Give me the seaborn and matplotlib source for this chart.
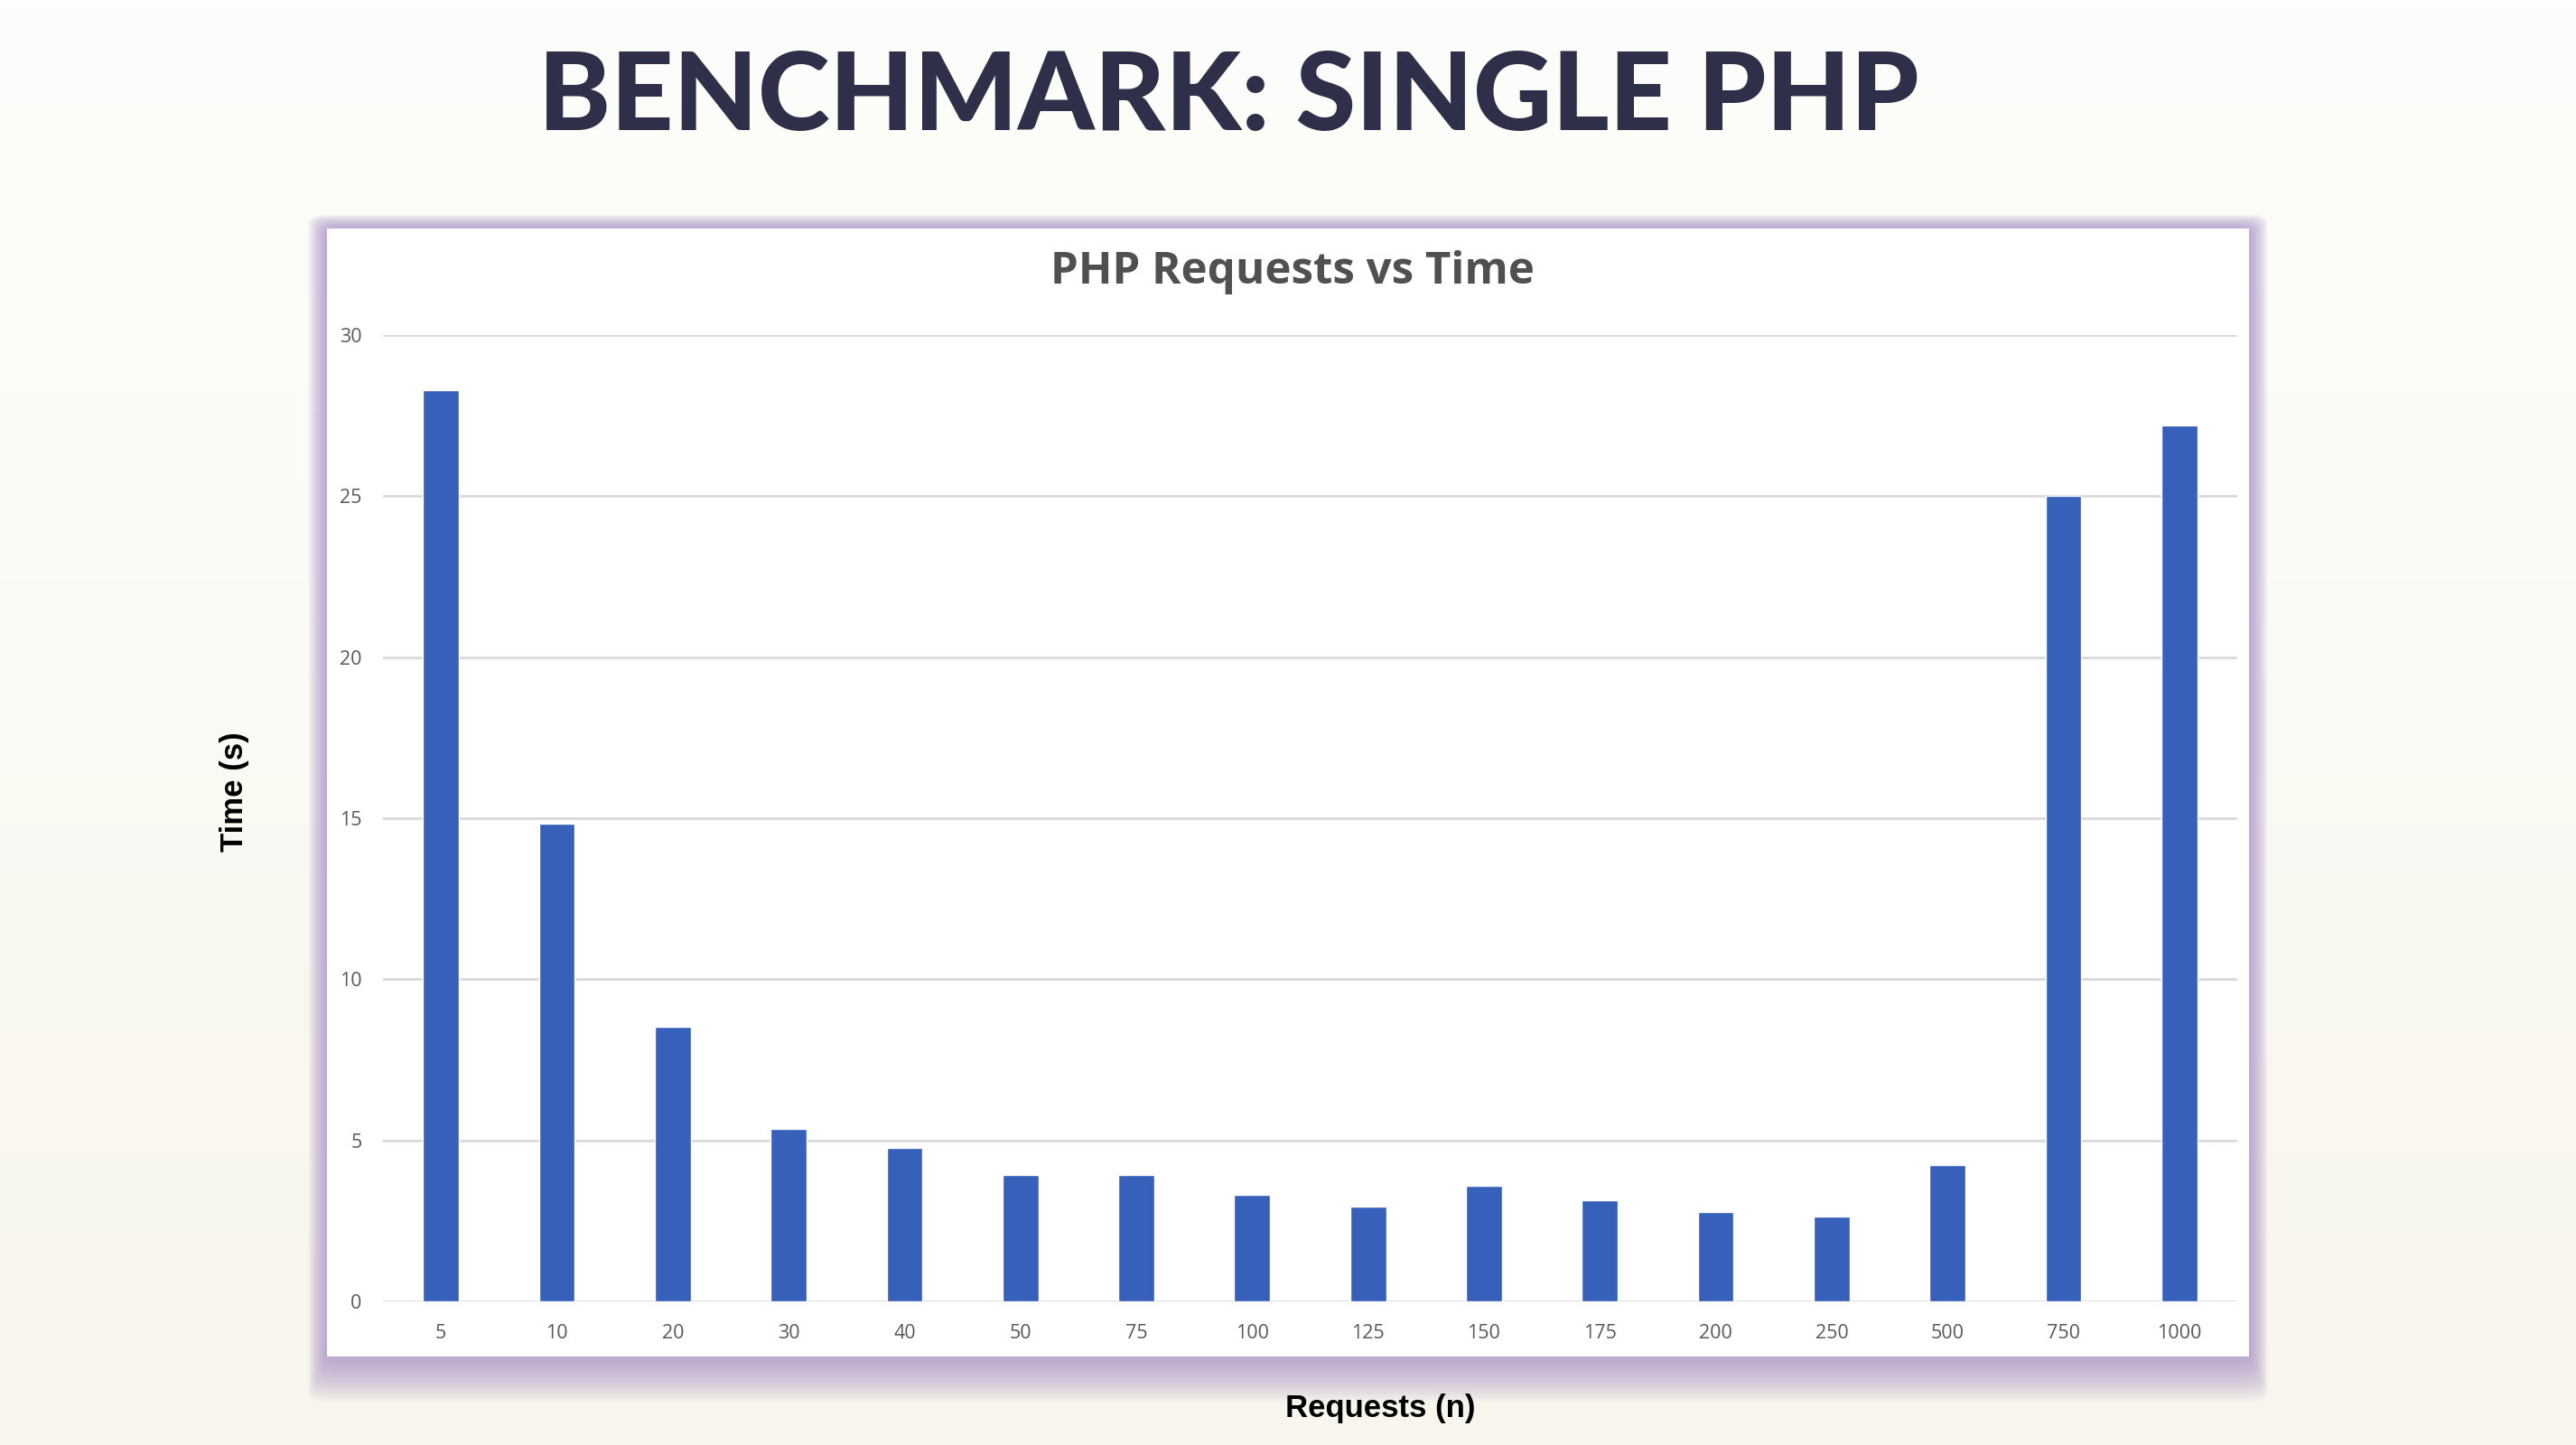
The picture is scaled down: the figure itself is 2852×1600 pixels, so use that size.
import matplotlib
matplotlib.use('Agg')
import matplotlib.pyplot as plt
from matplotlib.patches import FancyBboxPatch, Rectangle
import seaborn as sns
import pandas as pd
import numpy as np

# data
requests = ['5', '10', '20', '30', '40', '50', '75', '100', '125',
            '150', '175', '200', '250', '500', '750', '1000']
times = [28.3, 14.83, 8.52, 5.36, 4.78, 3.92, 3.92, 3.32, 2.95,
         3.6, 3.15, 2.78, 2.63, 4.22, 25.0, 27.2]
y_ticks = [0, 5, 10, 15, 20, 25, 30]

BAR_COLOR = '#3660b9'
GRID_COLOR = '#d9d9d9'

sns.set_theme(style='white')

df = pd.DataFrame({'requests': requests, 'time': times})

fig = plt.figure(figsize=(28.52, 16), dpi=100)

# slide background with a soft cream gradient
bg = fig.add_axes([0, 0, 1, 1])
bg.set_xlim(0, 1)
bg.set_ylim(0, 1)
grad = np.linspace(0, 1, 256).reshape(-1, 1)
cmap = matplotlib.colors.LinearSegmentedColormap.from_list('bg', ['#fdfdfb', '#f8f6ec'])
bg.imshow(grad, extent=[0, 1, 0, 1], aspect='auto', cmap=cmap, origin='upper', zorder=0)
bg.axis('off')

# white chart card with a tight purple glow
cx0, cx1 = 362 / 2852, 2490 / 2852
cy0, cy1 = 1 - 1502 / 1600, 1 - 253 / 1600
for i in range(24, 0, -1):
    dx = i * 0.0003
    dy_top = i * 0.0004
    dy_bot = i * 0.0013
    bg.add_patch(FancyBboxPatch((cx0 - dx, cy0 - dy_bot), (cx1 - cx0) + 2 * dx,
                                (cy1 - cy0) + dy_top + dy_bot,
                                boxstyle='round,pad=0,rounding_size=0.006',
                                facecolor='#a98bc8', edgecolor='none',
                                alpha=0.045, zorder=1))
bg.add_patch(Rectangle((cx0, cy0), cx1 - cx0, cy1 - cy0, facecolor='white',
                       edgecolor='none', zorder=2))

# plot area
ax = fig.add_axes([424 / 2852, 1 - 1441 / 1600, 2053 / 2852, 1070 / 1600])
ax.patch.set_alpha(0)
sns.barplot(data=df, x='requests', y='time', order=requests, color=BAR_COLOR,
            width=0.31, saturation=1, ax=ax, zorder=3)
ax.set_xlim(-0.5, len(requests) - 0.5)
ax.set_ylim(0, 30)
ax.set_yticks(y_ticks)
ax.yaxis.grid(True, color=GRID_COLOR, linewidth=2, zorder=0)
ax.set_axisbelow(True)
for s in ax.spines.values():
    s.set_visible(False)
ax.tick_params(axis='both', length=0, labelsize=15.5, labelcolor='#595959')
ax.tick_params(axis='y', pad=17)
ax.tick_params(axis='x', pad=18)
for lbl in ax.get_xticklabels() + ax.get_yticklabels():
    lbl.set_family('Open Sans')
ax.set_xlabel('')
ax.set_ylabel('')

# texts
fig.text(0.477, 0.932, 'BENCHMARK: SINGLE PHP', ha='center', va='center',
         fontsize=87, fontweight='black', family=['Lato', 'DejaVu Sans'],
         color='#2e3049')
fig.text(1431 / 2852, 1 - 302 / 1600, 'PHP Requests vs Time', ha='center',
         va='center', fontsize=35.5, fontweight='bold',
         family=['Open Sans', 'DejaVu Sans'], color='#505050')
fig.text(1528 / 2852, 1 - 1559 / 1600, 'Requests (n)', ha='center', va='center',
         fontsize=25, fontweight='bold',
         family=['Liberation Sans', 'DejaVu Sans'], color='black')
fig.text(260 / 2852, 1 - 877 / 1600, 'Time (s)', ha='center', va='center',
         rotation=90, fontsize=25, fontweight='bold',
         family=['Liberation Sans', 'DejaVu Sans'], color='black')

fig.savefig('out.png', dpi=100)
